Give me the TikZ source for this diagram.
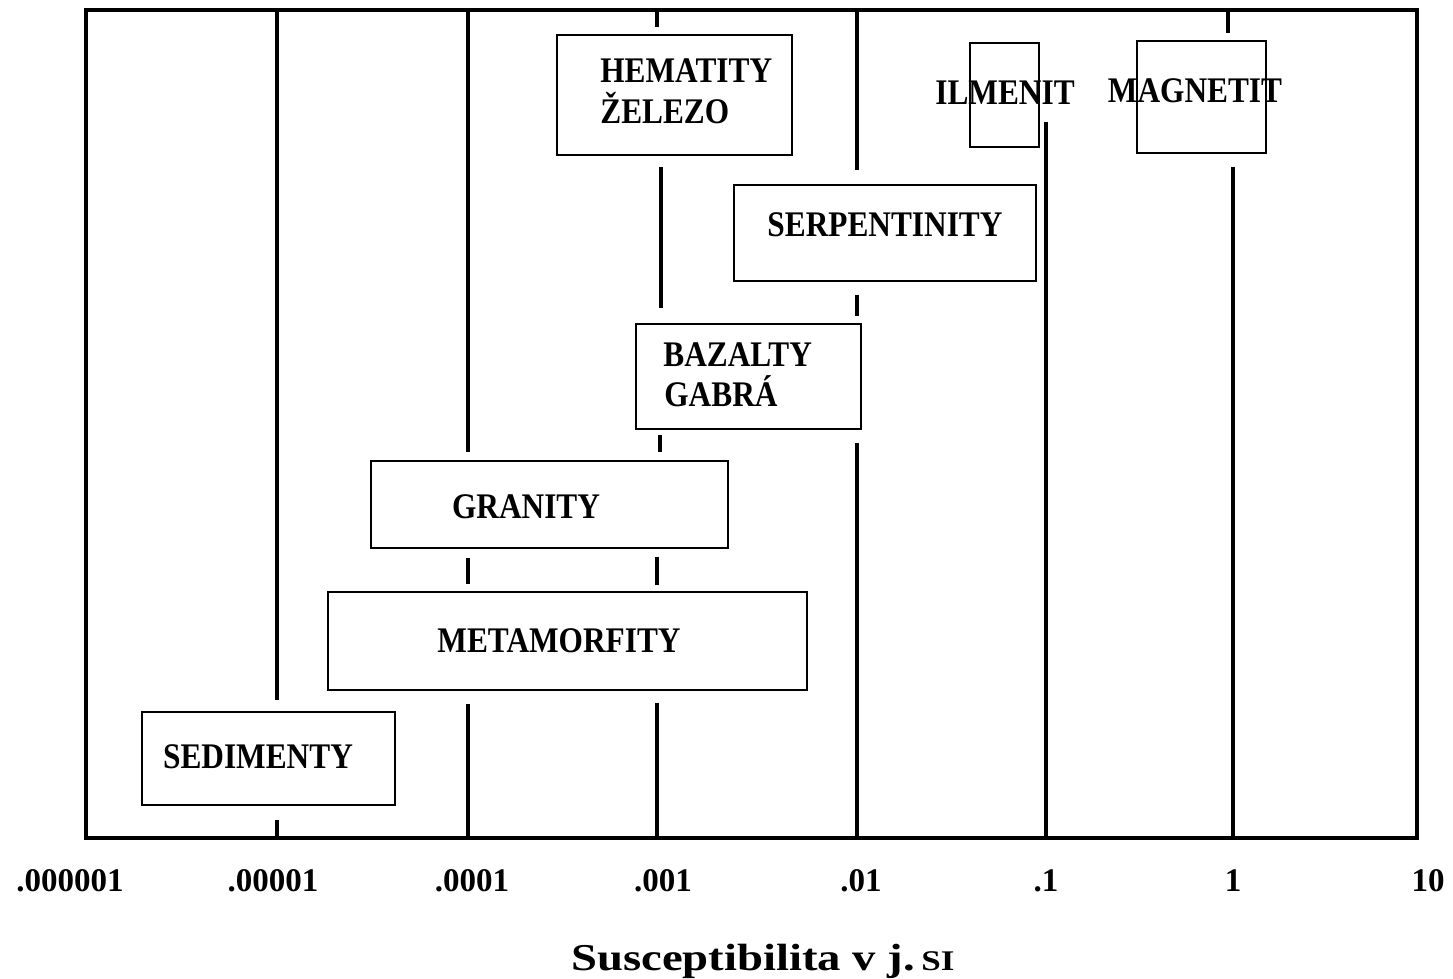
\documentclass[tikz,border=0pt]{standalone}
\usepackage{fontspec}
\setmainfont{Liberation Serif}
\newfontfamily\boxfont[FakeStretch=0.87]{Liberation Serif}
\newfontfamily\titlefont[FakeStretch=1.23]{Liberation Serif}
\usetikzlibrary{fit}
\begin{document}
\begin{tikzpicture}[x=0.02cm,y=-0.02cm,
  frameline/.style={line width=2.6pt},
  gridline/.style={line width=2.2pt},
  rockbox/.style={draw, line width=1.3pt, inner sep=0pt, outer sep=0pt},
  lbl/.style={inner sep=0pt, font=\boxfont\bfseries\fontsize{20.5}{24}\selectfont},
  ticklbl/.style={inner sep=0pt, anchor=base, font=\bfseries\fontsize{18.8}{22}\selectfont},
  titlelbl/.style={inner sep=0pt, anchor=base, font=\titlefont\bfseries\fontsize{21.6}{26}\selectfont}
]
\useasboundingbox (0,0) rectangle (1453,979);

% frame
\node[draw, frameline, inner sep=0pt, fit={(86,10) (1417,838)}] (frame) {};

% vertical grid lines (with gaps)
\draw[gridline] (277,10) -- (277,700) (277,820) -- (277,838);
\draw[gridline] (468,10) -- (468,452) (468,558) -- (468,584) (468,704) -- (468,838);
\draw[gridline] (657,10) -- (657,27) (661,167) -- (661,308) (660,435) -- (660,452)
                (657,557) -- (657,585) (657,703) -- (657,838);
\draw[gridline] (857,10) -- (857,170) (857,295) -- (857,316) (857,443) -- (857,838);
\draw[gridline] (1046,122) -- (1046,838);
\draw[gridline] (1228,10) -- (1228,33) (1233,167) -- (1233,838);

% boxes
\node[rockbox, fit={(557,35) (792,155)}] (hembox) {};
\node[rockbox, fit={(970,43) (1039,147)}] (ilmbox) {};
\node[rockbox, fit={(1137,41) (1266,153)}] (magbox) {};
\node[rockbox, fit={(734,185) (1036,281)}] (serpbox) {};
\node[rockbox, fit={(636,324) (861,429)}] (bazbox) {};
\node[rockbox, fit={(371,461) (728,548)}] (granbox) {};
\node[rockbox, fit={(328,592) (807,690)}] (metabox) {};
\node[rockbox, fit={(142,712) (395,805)}] (sedbox) {};

% box texts
\node[lbl, anchor=base west] (hem1) at (600,83) {HEMATITY};
\node[lbl, anchor=base west] (hem2) at (600,124) {ŽELEZO};
\node[lbl, anchor=base] (ilm) at (1005,105) {ILMENIT};
\node[lbl, anchor=base] (mag) at (1195,103) {MAGNETIT};
\node[lbl, anchor=base] (serp) at (885,237) {SERPENTINITY};
\node[lbl, anchor=base west] (baz1) at (663,367) {BAZALTY};
\node[lbl, anchor=base west] (baz2) at (664,407) {GABRÁ};
\node[lbl, anchor=base] (gran) at (526,519) {GRANITY};
\node[lbl, anchor=base] (meta) at (559,652) {METAMORFITY};
\node[lbl, anchor=base] (sed) at (258,768) {SEDIMENTY};

% axis labels
\node[ticklbl] (t0) at (70,891) {.000001};
\node[ticklbl] (t1) at (273,891) {.00001};
\node[ticklbl] (t2) at (472,891) {.0001};
\node[ticklbl] (t3) at (663,891) {.001};
\node[ticklbl] (t4) at (861,891) {.01};
\node[ticklbl] (t5) at (1046,891) {.1};
\node[ticklbl] (t6) at (1233,891) {1};
\node[ticklbl] (t7) at (1428,891) {10};

% title
\node[titlelbl] (title) at (763,970) {Susceptibilita v j.\,{\fontsize{16.2}{20}\selectfont SI}};
\end{tikzpicture}
\end{document}
